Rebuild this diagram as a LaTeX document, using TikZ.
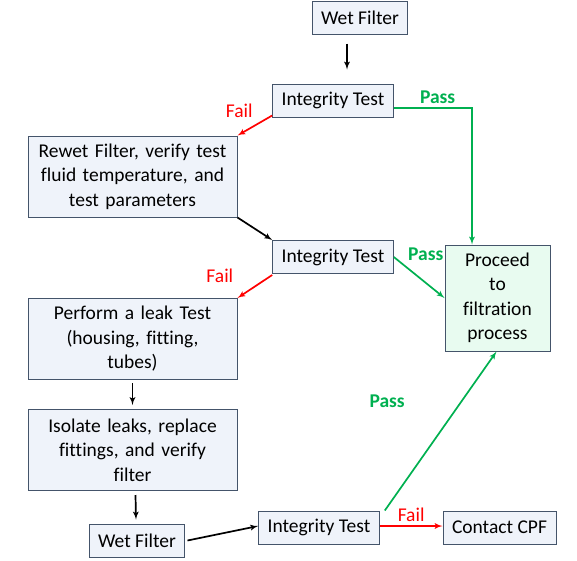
\documentclass[tikz,border=0pt]{standalone}
\usepackage{fontspec}
\setmainfont{Carlito}[Ligatures=NoCommon]
\usetikzlibrary{arrows}
\definecolor{boxfill}{RGB}{239,243,250}
\definecolor{boxline}{RGB}{68,84,106}
\definecolor{okfill}{RGB}{232,251,240}
\definecolor{passgreen}{RGB}{0,176,80}
\definecolor{failred}{RGB}{255,0,0}
\newcommand{\boxfont}{\fontsize{19.5}{24.5}\selectfont}
\tikzstyle{process} = [rectangle, draw=boxline, fill=boxfill, text centered,
  minimum height=33pt, inner xsep=9pt, line width=1pt]
\tikzstyle{bigstep} = [process, text width=195pt, minimum height=81pt, inner xsep=7pt]
\tikzstyle{finish} = [process, fill=okfill, text width=91pt, minimum height=106pt,
  inner xsep=7pt]
\tikzstyle{line} = [draw, -latex', line width=1.7pt]
\tikzstyle{pass} = [line, draw=passgreen]
\tikzstyle{fail} = [line, draw=failred]
\tikzstyle{passlabel} = [text=passgreen, font=\boxfont\bfseries]
\tikzstyle{faillabel} = [text=failred]

\begin{document}
\begin{tikzpicture}[font=\boxfont]
    \useasboundingbox (0,0) rectangle (577pt,-560pt);
    \node[process] (wf1) at (360pt,-17.5pt) {Wet Filter};
    \node[process, below of=wf1, node distance=83pt, xshift=-27pt] (it1) {Integrity Test};
    \node[bigstep, below of=it1, node distance=76pt, xshift=-200.5pt] (rewet) {Rewet Filter, verify test\\ fluid temperature, and\\ test parameters};
    \node[process, below of=it1, node distance=156.5pt] (it2) {Integrity Test};
    \node[finish, right of=it2, node distance=164.5pt, yshift=-41pt] (proceed) {Proceed\\ to\\ filtration\\ process};

    \node[bigstep, below of=rewet, node distance=162.5pt] (leak) {Perform a leak Test\\ (housing, fitting,\\ tubes)};
    \node[bigstep, below of=leak, node distance=111pt] (isolate) {Isolate leaks, replace\\ fittings, and verify\\ filter};
    \node[process, below of=isolate, node distance=90.5pt, xshift=4.5pt] (wf2) {Wet Filter};
    \node[process, right of=wf2, node distance=182pt, yshift=13pt] (it3) {Integrity Test};
    \node[process, right of=it3, node distance=180.5pt] (cpf) {Contact CPF};

    \path[line] ([xshift=-13pt,yshift=-9pt]wf1.south) -- ([xshift=14pt,yshift=14pt]it1.north);
    \path[fail] ([yshift=2pt]it1.south west) -- node[faillabel, above left, xshift=2pt, yshift=4pt] {Fail} (rewet.north east);
    \path[pass] ([yshift=-7.5pt]it1.east) -| node[passlabel, pos=0.28, above] {Pass} ([xshift=-25.5pt]proceed.north);
    \path[line] (rewet.south east) -- (it2.north west);
    \path[pass] (it2.east) -- node[passlabel, pos=0.2, above right] {Pass} (proceed.west);
    \path[fail] ([yshift=-1pt]it2.south west) -- node[faillabel, pos=0.6, above left, xshift=-14pt, yshift=2pt] {Fail} (leak.north east);
    \path[line] ([yshift=-3pt]leak.south) -- ([yshift=4pt]isolate.north);
    \path[line] ([xshift=3pt,yshift=-4pt]isolate.south) -- ([xshift=-1pt,yshift=4pt]wf2.north);
    \path[line] ([xshift=2pt]wf2.east) -- ([yshift=1.5pt]it3.west);
    \path[fail] ([yshift=1.5pt]it3.east) -- node[faillabel, above] {Fail} ([yshift=1.5pt]cpf.west);
    \path[pass] ([xshift=5pt]it3.north east) -- node[passlabel, pos=0.69, left=53pt] {Pass} ([xshift=-1pt]proceed.south);
  \end{tikzpicture}
\end{document}
